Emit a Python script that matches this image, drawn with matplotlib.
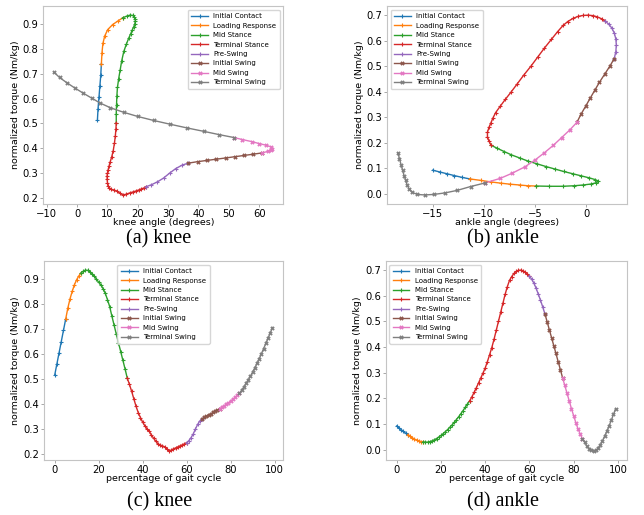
import matplotlib
matplotlib.use("Agg")
import matplotlib.pyplot as plt

# gait cycle percentage (0..99) and phase boundaries (indices)
pct = list(range(100))
phase_names = ['Initial Contact', 'Loading Response', 'Mid Stance', 'Terminal Stance',
               'Pre-Swing', 'Initial Swing', 'Mid Swing', 'Terminal Swing']
phase_bounds = [0, 5, 12, 33, 60, 67, 75, 84, 99]

knee_torque = [
    0.515, 0.56, 0.605, 0.65, 0.695, 0.74,
    0.785, 0.822, 0.852, 0.878, 0.898, 0.913, 0.925,
    0.932, 0.936, 0.935, 0.93, 0.922, 0.912, 0.90, 0.887, 0.877, 0.862, 0.843, 0.818,
    0.79, 0.752, 0.716, 0.68, 0.645, 0.61, 0.575, 0.54, 0.503,
    0.478, 0.45, 0.42, 0.39, 0.365, 0.345, 0.327, 0.312, 0.3, 0.29, 0.275, 0.262, 0.25,
    0.24, 0.235, 0.232, 0.228, 0.22, 0.212, 0.215, 0.22, 0.224, 0.228, 0.232, 0.236, 0.24, 0.245,
    0.253, 0.265, 0.28, 0.3, 0.318, 0.332, 0.34,
    0.346, 0.351, 0.356, 0.361, 0.366, 0.371, 0.376, 0.381,
    0.387, 0.393, 0.399, 0.405, 0.412, 0.419, 0.427, 0.435, 0.443,
    0.455, 0.468, 0.482, 0.497, 0.512, 0.528, 0.545, 0.563, 0.582, 0.602, 0.622, 0.643,
    0.664, 0.685, 0.706]

knee_angle = [
    6.7, 6.9, 7.2, 7.5, 7.8, 8.0,
    8.2, 8.5, 9.1, 10.1, 11.7, 13.5, 15.0,
    16.3, 17.4, 18.3, 18.8, 19.1, 19.2, 19.0, 18.6, 18.2, 17.7, 17.0, 16.2,
    15.4, 14.7, 14.2, 13.7, 13.3, 13.1, 13.0, 12.9, 12.9,
    12.8, 12.6, 12.3, 11.9, 11.4, 10.9, 10.5, 10.2, 10.0, 9.9, 9.9, 10.0, 10.2,
    10.6, 11.2, 12.0, 13.0, 14.0, 15.1, 16.2, 17.3, 18.4, 19.4, 20.3, 21.2, 22.0, 22.7,
    24.5, 26.5, 28.5, 30.5, 32.5, 34.6, 36.6,
    39.7, 42.8, 45.9, 49.0, 52.0, 55.0, 58.0, 60.8,
    62.8, 64.0, 64.4, 64.0, 62.4, 60.0, 57.5, 54.5, 51.8,
    46.8, 41.8, 36.2, 30.6, 25.2, 20.0, 15.3, 11.0, 7.6, 4.8, 2.0, -0.8,
    -3.4, -5.8, -7.6]

ankle_torque = [
    0.092, 0.085, 0.078, 0.071, 0.064, 0.058,
    0.052, 0.046, 0.041, 0.037, 0.034, 0.031, 0.03,
    0.029, 0.029, 0.031, 0.034, 0.038, 0.043, 0.049, 0.055, 0.062, 0.07, 0.078, 0.087,
    0.096, 0.106, 0.117, 0.128, 0.14, 0.152, 0.165, 0.178, 0.19,
    0.206, 0.223, 0.241, 0.26, 0.279, 0.298, 0.318, 0.343, 0.37, 0.398, 0.43, 0.465, 0.5,
    0.535, 0.57, 0.605, 0.635, 0.66, 0.675, 0.687, 0.695, 0.699, 0.7, 0.698, 0.693, 0.686, 0.677,
    0.665, 0.65, 0.63, 0.607, 0.583, 0.557, 0.53,
    0.499, 0.468, 0.437, 0.406, 0.375, 0.343, 0.312, 0.28,
    0.25, 0.22, 0.19, 0.16, 0.132, 0.105, 0.08, 0.06, 0.042,
    0.028, 0.013, 0.003, -0.003, -0.005, -0.003, 0.005, 0.018, 0.034, 0.052, 0.071, 0.092,
    0.114, 0.137, 0.16]

ankle_angle = [
    -15.0, -14.3, -13.6, -12.9, -12.15, -11.4,
    -10.3, -9.3, -8.3, -7.4, -6.5, -5.7, -4.9,
    -3.6, -2.3, -1.2, -0.3, 0.5, 1.0, 1.2, 0.9, 0.3, -0.5, -1.3, -2.2,
    -3.0, -3.9, -4.8, -5.7, -6.5, -7.3, -8.0, -8.7, -9.3,
    -9.5, -9.65, -9.65, -9.5, -9.3, -9.1, -8.85, -8.4, -7.9, -7.35, -6.75, -6.1, -5.4,
    -4.75, -4.1, -3.4, -2.8, -2.25, -1.8, -1.3, -0.8, -0.3, 0.2, 0.7, 1.1, 1.5, 1.85,
    2.2, 2.5, 2.75, 2.9, 2.95, 2.9, 2.75,
    2.3, 1.8, 1.3, 0.85, 0.4, -0.05, -0.5, -0.9,
    -1.6, -2.4, -3.2, -4.1, -5.0, -6.0, -7.25, -8.4, -9.9,
    -11.3, -12.6, -13.8, -14.9, -15.8, -16.5, -17.0, -17.3, -17.5, -17.65, -17.8, -17.95,
    -18.1, -18.25, -18.4]

colors = ['C0', 'C1', 'C2', 'C3', 'C4', 'C5', 'C6', 'C7']
markers = ['+', '+', '+', '+', '+', 'X', 'X', 'X']

fig = plt.figure(figsize=(6.44, 5.15), dpi=100)

panels = [
    ([0.067, 0.604, 0.373, 0.384], knee_angle, knee_torque, 'knee angle (degrees)', 'upper right', '(a) knee', 0.247, 0.527),
    ([0.601, 0.604, 0.373, 0.384], ankle_angle, ankle_torque, 'ankle angle (degrees)', 'upper left', '(b) ankle', 0.781, 0.527),
    ([0.068, 0.107, 0.372, 0.386], pct, knee_torque, 'percentage of gait cycle', 'upper center', '(c) knee', 0.248, 0.017),
    ([0.599, 0.107, 0.374, 0.386], pct, ankle_torque, 'percentage of gait cycle', 'upper left', '(d) ankle', 0.781, 0.017),
]

for rect, xs, ys, xlabel, loc, caption, cx, cy in panels:
    ax = fig.add_axes(rect)
    for i in range(8):
        s, e = phase_bounds[i], phase_bounds[i + 1]
        ax.plot(xs[s:e + 1], ys[s:e + 1], color=colors[i], marker=markers[i],
                markersize=3 if markers[i] == '+' else 2.6, markeredgewidth=0.8 if markers[i] == '+' else 0.4,
                linewidth=1.0, label=phase_names[i])
    ax.set_xlabel(xlabel, fontsize=6.8, labelpad=-0.5)
    ax.set_ylabel('normalized torque (Nm/kg)', fontsize=6.8, labelpad=2)
    ax.tick_params(labelsize=7.2, length=2.5, width=0.6, color='#9a9a9a', pad=1.0)
    for sp in ax.spines.values():
        sp.set_color('#c4c4c4')
        sp.set_linewidth(0.8)
    ax.legend(loc=loc, fontsize=5, handlelength=2.4, borderpad=0.5, labelspacing=0.5)
    fig.text(cx, cy, caption, ha='center', va='baseline', fontsize=14.5, family='Liberation Serif')

fig.savefig('out.png', dpi=100)
